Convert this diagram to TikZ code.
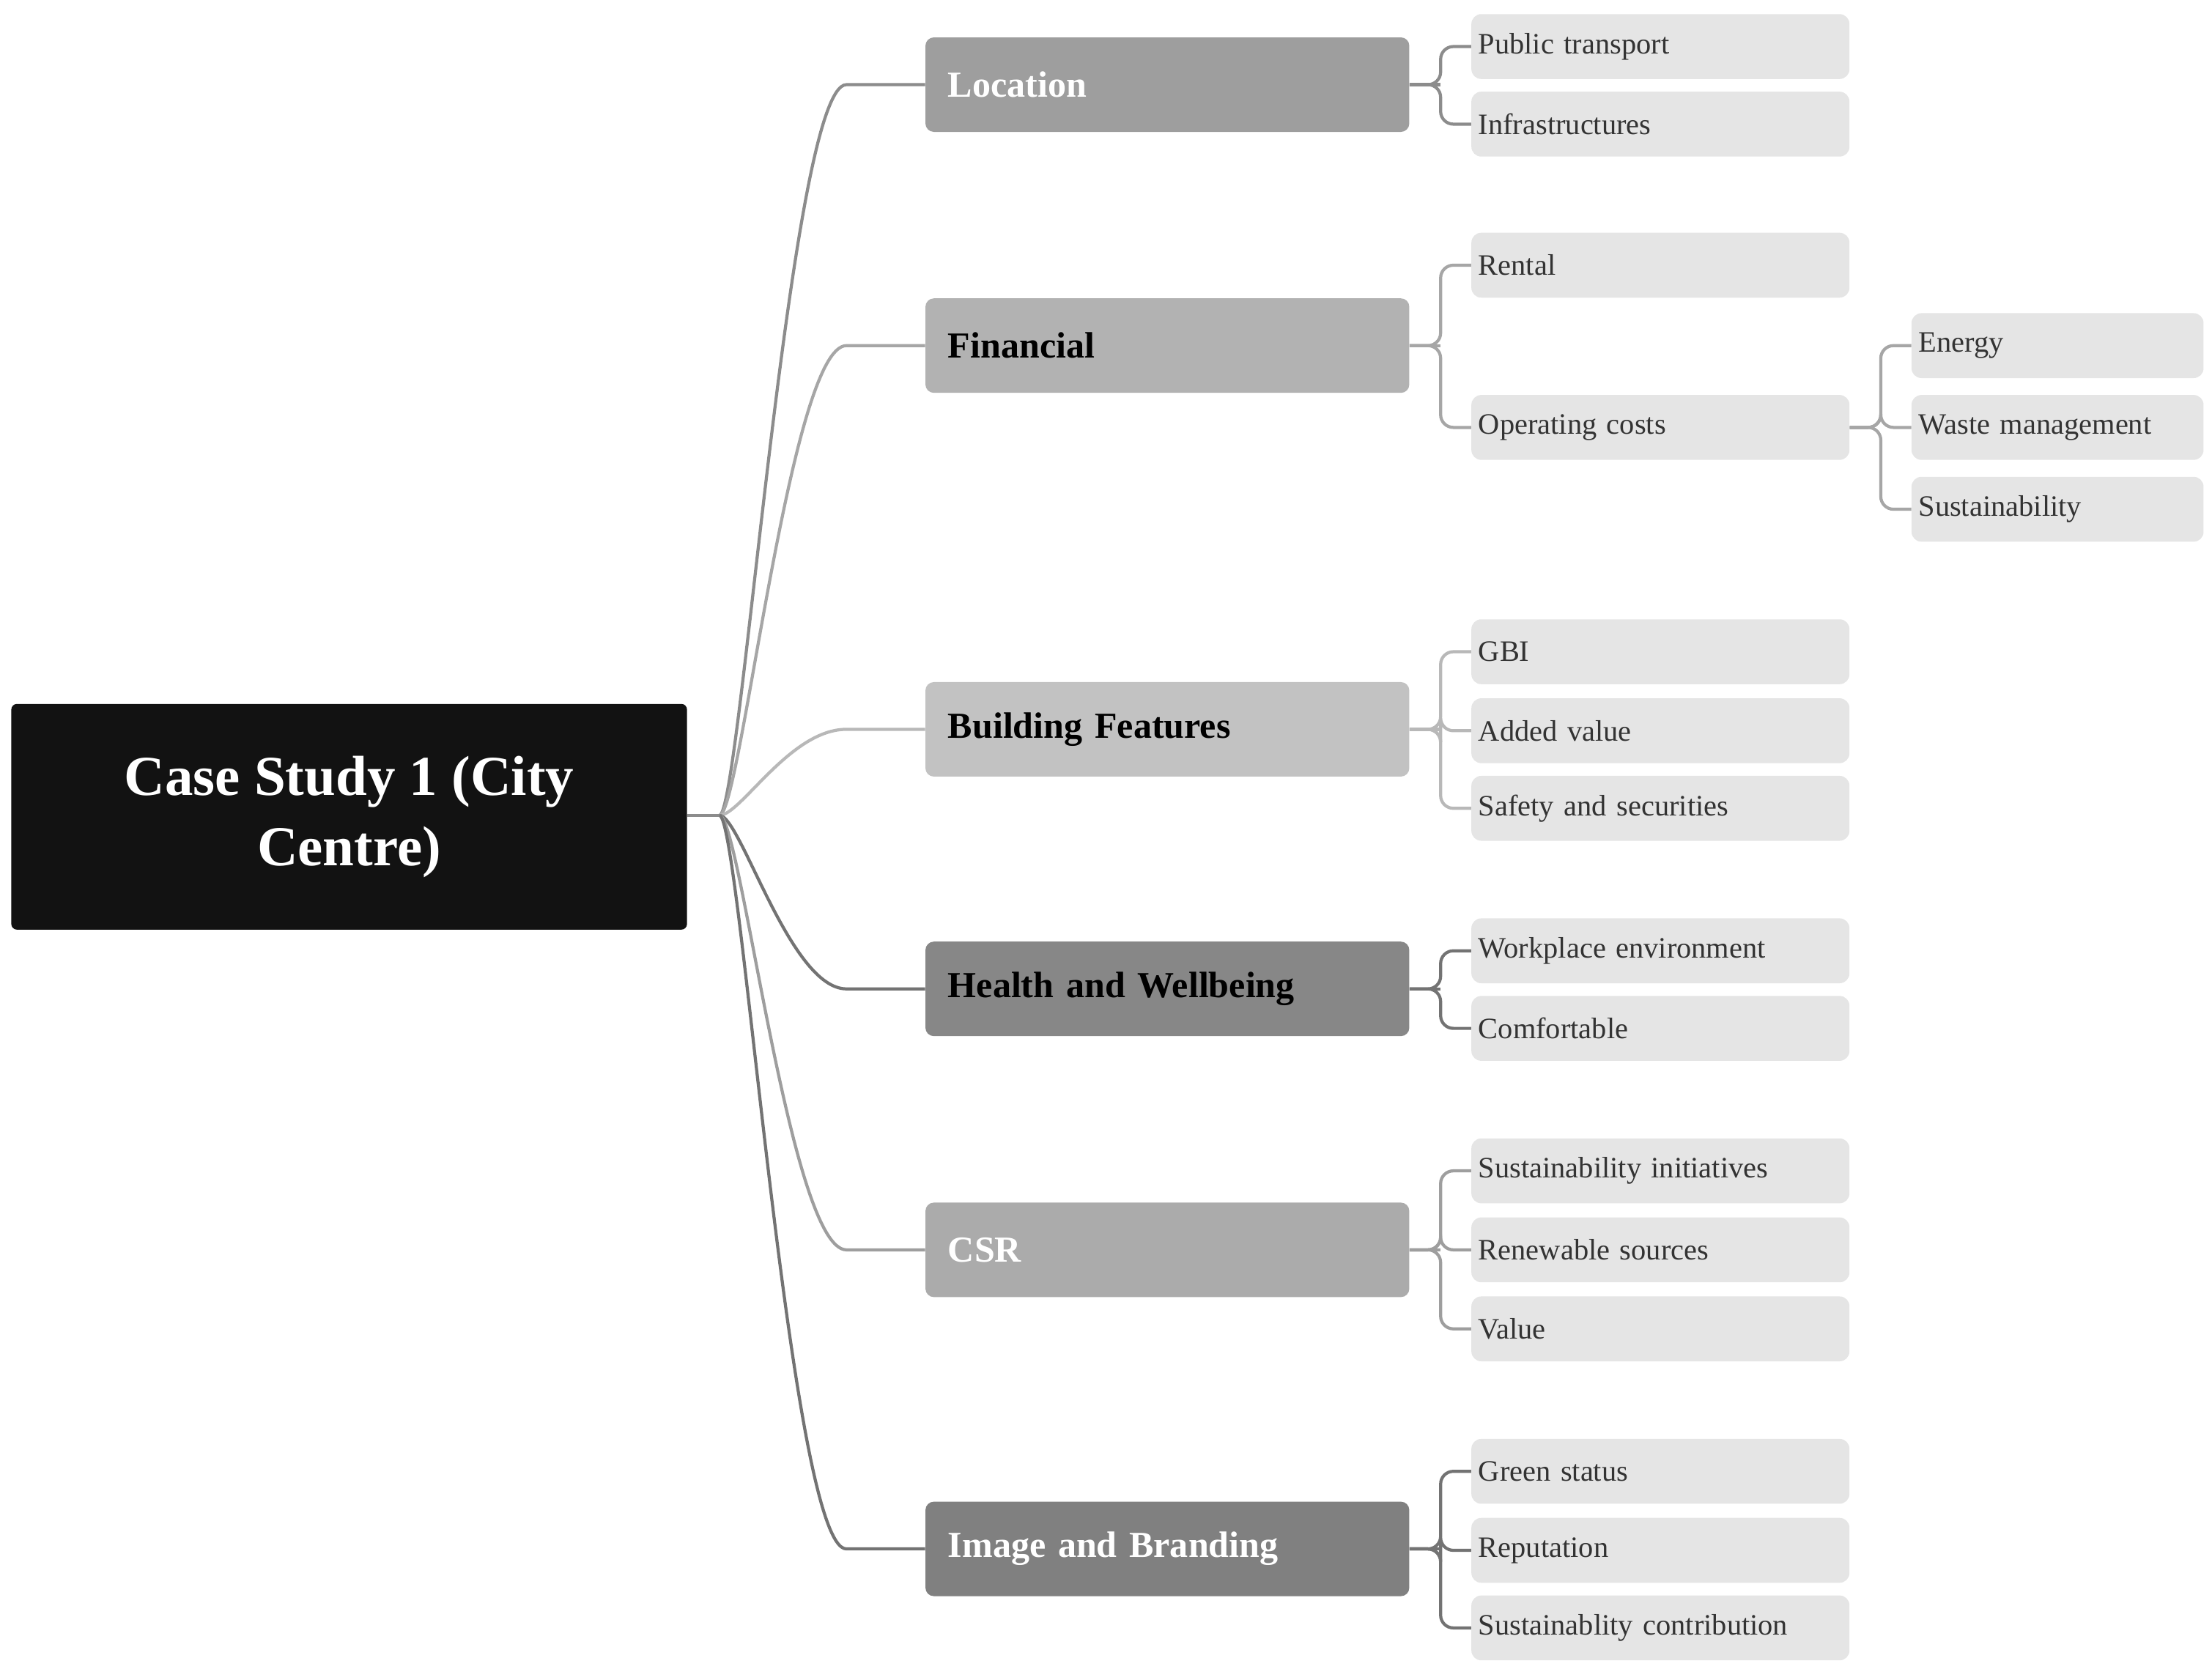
\documentclass[tikz,border=0pt]{standalone}
\usepackage{fontspec}
\setmainfont{Liberation Serif}
\begin{document}
\begin{tikzpicture}[x=1pt,y=-1pt,
  rootbox/.style={fill=black!93,rounded corners=4pt,minimum width=479pt,minimum height=160pt,text=white,font=\fontsize{40}{50}\selectfont\bfseries,align=center,inner sep=0},
  branch/.style={rounded corners=6pt,minimum width=343pt,minimum height=67pt,font=\fontsize{26}{30}\selectfont\bfseries,text width=311pt,align=left,inner sep=0},
  leaf/.style={fill=black!10,rounded corners=7pt,minimum width=268pt,minimum height=46pt,font=\fontsize{21}{24}\selectfont,text=black!80,text width=258pt,align=left,inner sep=0},
  sub/.style={leaf,minimum width=207pt,text width=197pt},
  conn/.style={line width=2.2pt,rounded corners=9pt}]
\useasboundingbox (0,0) rectangle (1568,1183);
\node[rootbox] (root) at (247.5,579) {Case Study 1 (City\\Centre)};
\coordinate (hub) at (510,578);
\foreach \n/\t/\y/\f/\tc/\lc in {loc/Location/60/38/white/45, fin/Financial/245/30/black/35, bld/Building Features/517/24/black/28, hw/Health and Wellbeing/701/47/black/55, csr/CSR/886/33/white/38, img/Image and Branding/1098/50/white/55}{
  \node[branch,fill=black!\f,text=\tc] (\n) at (827.5,\y) {\t};
  \draw[line width=2.2pt,draw=black!\lc] (hub) .. controls (525,578) and (560,\y) .. (600,\y) -- (\n.west);
}
\draw[line width=2.2pt,black!45] (root.east|-hub) -- (hub);
\foreach \n/\t/\y in {pt/Public transport/33, inf/Infrastructures/88, ren/Rental/188, op/Operating costs/303, gbi/GBI/462, av/Added value/518, saf/Safety and securities/573, wp/Workplace environment/674, com/Comfortable/729, si/Sustainability initiatives/830, rs/Renewable sources/886, val/Value/942, gs/Green status/1043, rep/Reputation/1099, sc/Sustainablity contribution/1154}{
  \node[leaf] (\n) at (1177,\y) {\t};
}
\foreach \n/\t/\y in {en/Energy/245, wm/Waste management/303, su/Sustainability/361}{
  \node[sub] (\n) at (1458.5,\y) {\t};
}
\foreach \b/\c/\ls in {loc/45/{pt,inf}, fin/35/{ren,op}, bld/28/{gbi,av,saf}, hw/55/{wp,com}, csr/38/{si,rs,val}, img/55/{gs,rep,sc}}{
  \draw[conn,draw=black!\c] (\b.east) -- ++(22,0);
  \foreach \l in \ls { \draw[conn,draw=black!\c] (\b.east) -- ++(22,0) |- (\l.west); }
}
\foreach \l in {en,wm,su} { \draw[conn,draw=black!35] (op.east) -- ++(22,0) |- (\l.west); }
\end{tikzpicture}
\end{document}
